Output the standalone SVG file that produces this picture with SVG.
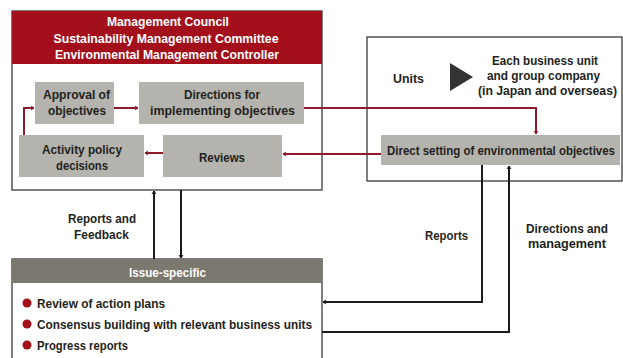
<svg xmlns="http://www.w3.org/2000/svg" width="623" height="358" viewBox="0 0 623 358">
<style>
text{font-family:"Liberation Sans",Arial,sans-serif;font-weight:bold;fill:#231f20;text-anchor:middle;font-size:13px}
.hd{fill:#ffffff}
.bx{fill:#b4b3ad}
.frame{fill:#ffffff;stroke:#3a3a3a;stroke-width:1.3}
.red{fill:none;stroke:#8e1b2b;stroke-width:2}
.blk{fill:none;stroke:#1a1a1a;stroke-width:2}
.li{text-anchor:start}
</style>
<defs>
<marker id="ar" viewBox="0 0 10 10" refX="9" refY="5" markerWidth="5" markerHeight="5" orient="auto" markerUnits="userSpaceOnUse" overflow="visible">
<path d="M3,1 L9,5 L3,9" fill="none" stroke="#8e1b2b" stroke-width="2"/>
</marker>
<marker id="ak" viewBox="0 0 10 10" refX="9" refY="5" markerWidth="5" markerHeight="5" orient="auto" markerUnits="userSpaceOnUse" overflow="visible">
<path d="M3,1 L9,5 L3,9" fill="none" stroke="#1a1a1a" stroke-width="2"/>
</marker>
</defs>
<rect width="623" height="358" fill="#ffffff"/>

<g id="council">
<rect class="frame" x="12" y="11" width="310" height="179"/>
<rect x="12" y="11" width="310" height="53" fill="#a3101c"/>
<text class="hd" x="168" y="26" textLength="122" lengthAdjust="spacingAndGlyphs">Management Council</text>
<text class="hd" x="166" y="42.5" textLength="225" lengthAdjust="spacingAndGlyphs">Sustainability Management Committee</text>
<text class="hd" x="167" y="58.5" textLength="224" lengthAdjust="spacingAndGlyphs">Environmental Management Controller</text>
</g>

<g id="approval">
<rect class="bx" x="35" y="82" width="79" height="42"/>
<text x="76.5" y="99" textLength="67" lengthAdjust="spacingAndGlyphs">Approval of</text>
<text x="77" y="115" textLength="58" lengthAdjust="spacingAndGlyphs">objectives</text>
</g>
<g id="directions">
<rect class="bx" x="139" y="82" width="165" height="42"/>
<text x="222" y="99" textLength="76" lengthAdjust="spacingAndGlyphs">Directions for</text>
<text x="222.5" y="115" textLength="145" lengthAdjust="spacingAndGlyphs">implementing objectives</text>
</g>
<g id="activity">
<rect class="bx" x="19" y="135" width="125" height="42"/>
<text x="82" y="154" textLength="80" lengthAdjust="spacingAndGlyphs">Activity policy</text>
<text x="82" y="169.5" textLength="52" lengthAdjust="spacingAndGlyphs">decisions</text>
</g>
<g id="reviews">
<rect class="bx" x="163" y="135" width="119" height="42"/>
<text x="222" y="161.5" textLength="46" lengthAdjust="spacingAndGlyphs">Reviews</text>
</g>

<g id="units">
<rect class="frame" x="367" y="37" width="255" height="144"/>
<text x="408.5" y="83" textLength="31" lengthAdjust="spacingAndGlyphs">Units</text>
<polygon points="450,63 473,77 450,91" fill="#333333"/>
<text x="545" y="64.5" textLength="106" lengthAdjust="spacingAndGlyphs">Each business unit</text>
<text x="543.5" y="79.5" textLength="113" lengthAdjust="spacingAndGlyphs">and group company</text>
<text x="547.5" y="94.5" textLength="139" lengthAdjust="spacingAndGlyphs">(in Japan and overseas)</text>
</g>
<g id="direct-setting">
<rect class="bx" x="381" y="135" width="239" height="30"/>
<text x="501" y="155" textLength="228" lengthAdjust="spacingAndGlyphs">Direct setting of environmental objectives</text>
</g>

<g id="issue">
<rect class="frame" x="12" y="259" width="310" height="104"/>
<rect x="12" y="259" width="310" height="24" fill="#7b796f"/>
<text class="hd" x="167.5" y="276.5" textLength="77" lengthAdjust="spacingAndGlyphs">Issue-specific</text>
<circle cx="27" cy="303" r="4.5" fill="#a3101c"/>
<circle cx="27" cy="324" r="4.5" fill="#a3101c"/>
<circle cx="27" cy="345" r="4.5" fill="#a3101c"/>
<text class="li" x="37" y="308" textLength="128" lengthAdjust="spacingAndGlyphs">Review of action plans</text>
<text class="li" x="37" y="329" textLength="275" lengthAdjust="spacingAndGlyphs">Consensus building with relevant business units</text>
<text class="li" x="37" y="350" textLength="91" lengthAdjust="spacingAndGlyphs">Progress reports</text>
</g>

<g id="connectors">
<path class="red" d="M114,108 H138" marker-end="url(#ar)"/>
<path class="red" d="M24,135 V108 H34" marker-end="url(#ar)"/>
<path class="red" d="M163,153 H145" marker-end="url(#ar)"/>
<path class="red" d="M304,108 H536 V134" marker-end="url(#ar)"/>
<path class="red" d="M381,154 H283" marker-end="url(#ar)"/>
<path class="blk" d="M154,259 V191" marker-end="url(#ak)"/>
<path class="blk" d="M181,190 V258" marker-end="url(#ak)"/>
<path class="blk" d="M482,165 V302 H323" marker-end="url(#ak)"/>
<path class="blk" d="M322,332 H509 V166" marker-end="url(#ak)"/>
</g>

<g id="labels">
<text x="102" y="223" textLength="68" lengthAdjust="spacingAndGlyphs">Reports and</text>
<text x="101.5" y="239" textLength="55" lengthAdjust="spacingAndGlyphs">Feedback</text>
<text x="446.5" y="240" textLength="43" lengthAdjust="spacingAndGlyphs">Reports</text>
<text x="567" y="233" textLength="82" lengthAdjust="spacingAndGlyphs">Directions and</text>
<text x="567" y="248" textLength="78" lengthAdjust="spacingAndGlyphs">management</text>
</g>
</svg>
